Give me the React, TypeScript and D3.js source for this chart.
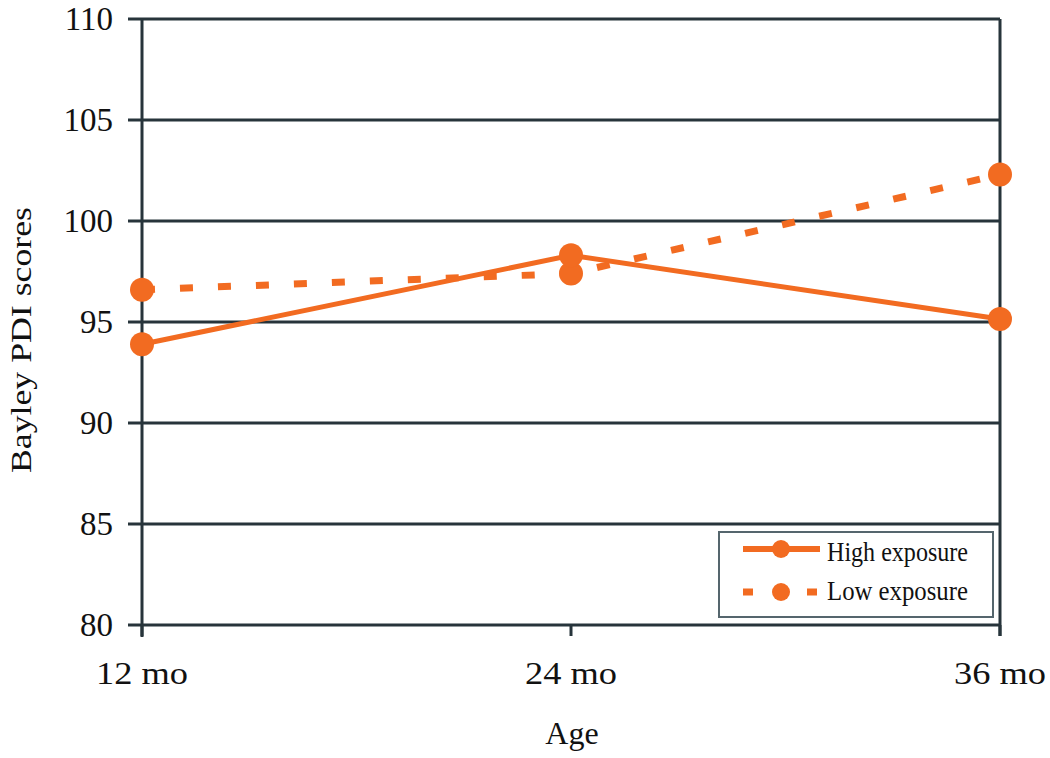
import React from "react";
import * as d3 from "d3";

const categories = ["12 mo", "24 mo", "36 mo"];
const highExposure = [93.9, 98.3, 95.15];
const lowExposure = [96.6, 97.4, 102.3];
const yTicks = [80, 85, 90, 95, 100, 105, 110];
const seriesNames = ["High exposure", "Low exposure"];

const ORANGE = "#F26B21";
const DARK = "#27343b";
const FONT = "'Liberation Serif', 'Times New Roman', serif";

export default function App() {
  const x = d3.scalePoint<string>().domain(categories).range([142, 1000]);
  const y = d3.scaleLinear().domain([80, 110]).range([625, 19]);
  const line = d3
    .line<number>()
    .x((_, i) => x(categories[i]) as number)
    .y((d) => y(d));

  const x0 = x(categories[0]) as number;
  const x1 = x(categories[categories.length - 1]) as number;

  return (
    <svg
      width={1050}
      height={758}
      style={{ position: "absolute", left: 0, top: 0, display: "block", background: "#fff" }}
      fontFamily={FONT}
    >
      {/* grid lines */}
      {yTicks.map((t) => (
        <line key={t} x1={128} x2={x1} y1={y(t)} y2={y(t)} stroke={DARK} strokeWidth={3} />
      ))}
      {/* y axis */}
      <line x1={x0} x2={x0} y1={y(110)} y2={y(80) + 12} stroke={DARK} strokeWidth={3} />
      {/* right border */}
      <line x1={x1} x2={x1} y1={y(110)} y2={y(80) + 11} stroke={DARK} strokeWidth={3} />
      {/* x ticks */}
      {categories.map((c) => (
        <line key={c} x1={x(c)} x2={x(c)} y1={y(80)} y2={y(80) + 11} stroke={DARK} strokeWidth={3} />
      ))}
      {/* y tick labels */}
      {yTicks.map((t) => (
        <text key={t} x={113} y={y(t) + 11} textAnchor="end" fontSize={33} fill="#111">
          {t}
        </text>
      ))}
      {/* x tick labels */}
      {categories.map((c) => (
        <text key={c} x={x(c)} y={684} textAnchor="middle" fontSize={32} fill="#111" textLength={92} lengthAdjust="spacingAndGlyphs">
          {c}
        </text>
      ))}
      {/* axis titles */}
      <text x={572} y={744} textAnchor="middle" fontSize={32} fill="#111">
        Age
      </text>
      <text
        transform="translate(31,340) rotate(-90)"
        textAnchor="middle"
        fontSize={30}
        fill="#111"
        textLength={266}
        lengthAdjust="spacingAndGlyphs"
      >
        Bayley PDI scores
      </text>

      {/* low exposure (dotted) */}
      <path
        d={line(lowExposure) || ""}
        fill="none"
        stroke={ORANGE}
        strokeWidth={7}
        strokeDasharray="13 25"
      />
      {/* high exposure (solid) */}
      <path d={line(highExposure) || ""} fill="none" stroke={ORANGE} strokeWidth={5} />
      {lowExposure.map((v, i) => (
        <circle key={"l" + i} cx={x(categories[i])} cy={y(v)} r={12} fill={ORANGE} />
      ))}
      {highExposure.map((v, i) => (
        <circle key={"h" + i} cx={x(categories[i])} cy={y(v)} r={12} fill={ORANGE} />
      ))}

      {/* legend */}
      <rect x={719} y={532} width={274} height={85} fill="#fff" stroke="#55666d" strokeWidth={2} />
      <line x1={743} x2={820} y1={549} y2={549} stroke={ORANGE} strokeWidth={6} />
      <circle cx={781} cy={549} r={9} fill={ORANGE} />
      <line x1={743} x2={820} y1={592} y2={592} stroke={ORANGE} strokeWidth={7} strokeDasharray="10 22" />
      <circle cx={781} cy={592} r={9} fill={ORANGE} />
      <text x={827} y={561} fontSize={27} fill="#111" textLength={141} lengthAdjust="spacingAndGlyphs">
        {seriesNames[0]}
      </text>
      <text x={827} y={600} fontSize={27} fill="#111" textLength={141} lengthAdjust="spacingAndGlyphs">
        {seriesNames[1]}
      </text>
    </svg>
  );
}
